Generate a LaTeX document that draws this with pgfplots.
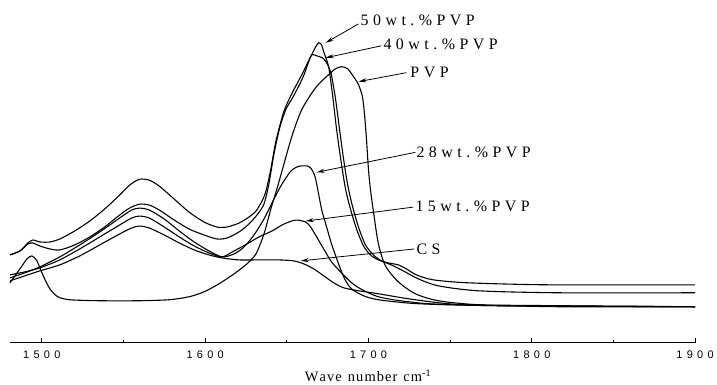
\documentclass[border=0pt]{standalone}
\usepackage{fontspec}
\setmainfont{Liberation Serif}
\newfontfamily\tickfont{Liberation Sans}
\usepackage{pgfplots}
\pgfplotsset{compat=1.18}
\usetikzlibrary{arrows.meta}
\makeatletter
\newcommand\ls[2]{\begingroup\def\ls@k{\kern#1}\let\ls@first\relax
  \@tfor\ls@c:=#2\do{\ls@first\let\ls@first\ls@k\ls@c}\endgroup}
\makeatother
\begin{document}
\begin{tikzpicture}
\begin{axis}[
  x=1.64pt, y=1pt,
  xmin=1480.5, xmax=1900, ymin=0, ymax=344,
  axis x line*=bottom, axis y line=none,
  axis line style={line width=1.1pt, -},
  clip=false,
  tick align=inside,
  major tick length=5pt, minor tick length=2.5pt,
  tick style={line width=1.1pt, black},
  xtick={1500,1600,1700,1800,1900},
  minor xtick={1550,1650,1750,1850},
  xticklabels={\ls{4.3pt}{1500},\ls{4.3pt}{1600},\ls{4.3pt}{1700},\ls{4.3pt}{1800},\ls{4.3pt}{1900}},
  xticklabel style={font=\fontsize{11}{13}\selectfont\tickfont, yshift=-5pt},
  spec/.style={black, line width=1.1pt, no markers, smooth, tension=0.45},
]
% 50 wt.% PVP
\addplot[spec] coordinates {(1480.5,88)(1486.6,92)(1491.5,100)(1494.5,103)(1498.8,101)(1504.9,101)(1511.0,104)(1520.1,112)(1529.3,122)(1538.4,134)(1547.6,148)(1553.7,158)(1559.8,164)(1565.9,163)(1572.0,157)(1581.1,144)(1590.2,131)(1599.4,121)(1607.3,116)(1613.4,116)(1620.7,120)(1626.8,126)(1631.1,132)(1634.8,142)(1637.2,152)(1640.2,174)(1643.3,202)(1648.2,232)(1653.1,250)(1659.2,269)(1664.6,287)(1667.7,297)(1669.5,301)(1671.3,299)(1672.6,292)(1675.6,277)(1678.0,249)(1680.5,214)(1683.5,179)(1686.0,154)(1689.0,134)(1692.7,114)(1697.0,97)(1701.2,88)(1706.1,83)(1712.2,80)(1718.3,78)(1723.2,74)(1729.3,68)(1739.6,63)(1761.0,60)(1809.8,58)(1900.0,58)};
% 40 wt.% PVP
\addplot[spec] coordinates {(1480.5,88)(1486.6,92)(1491.5,99)(1494.5,100)(1498.8,97)(1504.9,94)(1511.0,93)(1520.1,98)(1529.3,106)(1538.4,116)(1547.6,128)(1553.7,135)(1559.8,139)(1565.9,138)(1572.0,133)(1581.1,123)(1590.2,114)(1599.4,108)(1607.3,104)(1613.4,105)(1620.7,111)(1626.8,119)(1631.7,128)(1636.0,139)(1639.0,159)(1642.1,189)(1645.7,216)(1649.4,234)(1654.3,248)(1659.8,266)(1663.4,282)(1665.2,289)(1668.3,288)(1672.6,285)(1675.6,277)(1677.4,268)(1679.9,244)(1682.3,214)(1684.8,184)(1687.2,159)(1690.2,137)(1693.9,116)(1698.2,98)(1703.1,88)(1707.9,82)(1714.0,78)(1721.3,72)(1730.5,64)(1742.7,57)(1767.1,52)(1815.9,50)(1900.0,50)};
% PVP
\addplot[spec] coordinates {(1480.5,60)(1486.6,74)(1490.9,84)(1493.9,87)(1497.0,82)(1500.6,68)(1504.9,54)(1509.8,46)(1517.1,43)(1535.4,42)(1559.8,42)(1578.0,43)(1590.2,46)(1599.4,51)(1608.5,59)(1617.7,69)(1625.6,79)(1631.1,89)(1636.0,109)(1640.2,134)(1643.9,154)(1647.0,172)(1653.1,207)(1659.2,234)(1667.7,256)(1675.6,269)(1679.9,275)(1683.5,277)(1687.2,275)(1690.9,267)(1693.9,259)(1696.3,247)(1697.6,229)(1698.8,204)(1700.0,174)(1701.2,154)(1703.1,131)(1706.1,99)(1710.4,77)(1718.3,61)(1728.7,49)(1742.7,42)(1767.1,38)(1815.9,36)(1900.0,36)};
% 28 wt.% PVP
\addplot[spec] coordinates {(1480.5,65)(1489.6,70)(1498.8,76)(1511.0,86)(1523.2,98)(1535.4,111)(1547.6,125)(1554.9,133)(1559.8,135)(1565.9,133)(1575.0,124)(1584.2,112)(1593.3,101)(1602.4,92)(1610.4,86)(1617.7,89)(1623.8,96)(1629.9,108)(1636.0,124)(1642.1,144)(1647.0,159)(1652.4,172)(1657.3,177)(1663.4,177)(1665.9,172)(1667.7,164)(1671.3,134)(1674.4,116)(1677.4,99)(1681.7,79)(1685.4,64)(1689.6,54)(1697.0,47)(1706.1,43)(1730.5,39)(1779.3,37)(1900.0,36)};
% 15 wt.% PVP
\addplot[spec] coordinates {(1480.5,68)(1489.6,71)(1498.8,75)(1511.0,83)(1523.2,94)(1535.4,106)(1547.6,118)(1554.9,125)(1559.8,127)(1565.9,125)(1575.0,116)(1584.2,106)(1593.3,97)(1602.4,90)(1610.4,86)(1617.7,92)(1625.6,99)(1632.9,106)(1640.9,112)(1648.2,119)(1655.5,123)(1661.6,121)(1664.6,116)(1668.3,106)(1672.6,94)(1677.4,81)(1683.5,70)(1689.0,61)(1695.1,54)(1706.1,46)(1724.4,41)(1754.9,38)(1900.0,36)};
% CS
\addplot[spec] coordinates {(1480.5,62)(1489.6,67)(1498.8,72)(1511.0,78)(1523.2,87)(1535.4,98)(1547.6,109)(1554.9,115)(1559.8,117)(1565.9,115)(1575.0,108)(1584.2,100)(1593.3,93)(1602.4,88)(1610.4,85)(1620.7,83)(1632.9,83)(1645.1,83)(1654.3,82)(1660.4,79)(1666.5,74)(1672.6,67)(1678.7,60)(1684.8,55)(1693.9,52)(1706.1,49)(1724.4,44)(1748.8,39)(1779.3,37)(1900.0,36)};

% labels and arrows
\tikzset{lab/.style={anchor=west, inner sep=0pt, font=\fontsize{16}{18}\selectfont},
         arr/.style={line width=0.8pt, -{Stealth[length=8pt,width=4pt]}}}
\node[lab] at (axis cs:1695.1,324) {\ls{4.5pt}{50wt.\%PVP}};
\draw[arr] (axis cs:1693.9,320) -- (axis cs:1673.8,301);
\node[lab] at (axis cs:1709.1,299) {\ls{4.5pt}{40wt.\%PVP}};
\draw[arr] (axis cs:1707.9,298) -- (axis cs:1673.8,286);
\node[lab] at (axis cs:1725.6,271) {\ls{4.5pt}{PVP}};
\draw[arr] (axis cs:1723.2,271) -- (axis cs:1693.9,262);
\node[lab] at (axis cs:1729.3,191) {\ls{4.5pt}{28wt.\%PVP}};
\draw[arr] (axis cs:1728.7,191) -- (axis cs:1668.3,171);
\node[lab] at (axis cs:1728.7,137) {\ls{4.5pt}{15wt.\%PVP}};
\draw[arr] (axis cs:1727.4,136) -- (axis cs:1661.6,122);
\node[lab] at (axis cs:1729.3,94) {\ls{4.5pt}{CS}};
\draw[arr] (axis cs:1728.1,94) -- (axis cs:1658.5,82);

\node[anchor=base west, inner sep=0pt, font=\fontsize{14.5}{16}\selectfont] at (axis cs:1661,-39)
  {\ls{1.1pt}{Wave}\hspace{6pt}\ls{1.1pt}{number}\hspace{6pt}\ls{1.1pt}{cm}\textsuperscript{-1}};

\path (axis cs:1474.39,344) rectangle (axis cs:1911.6,-42);
\end{axis}
\end{tikzpicture}
\end{document}
